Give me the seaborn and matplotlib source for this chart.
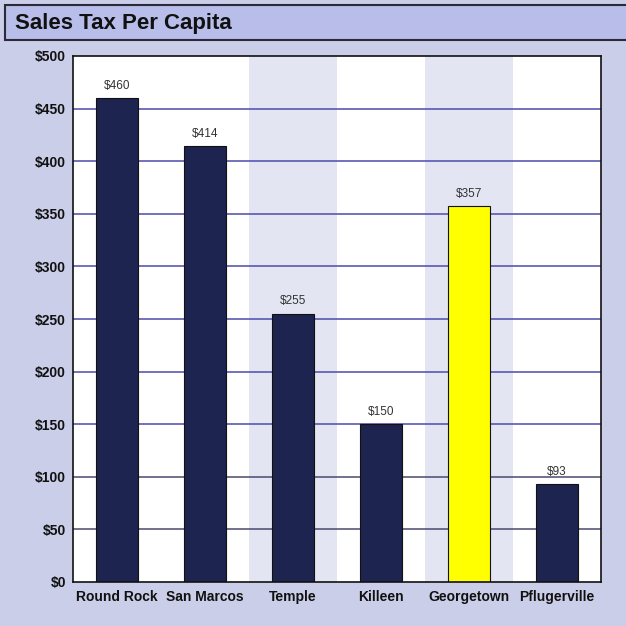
import matplotlib
matplotlib.use("Agg")
import matplotlib.pyplot as plt
from matplotlib.patches import Rectangle
import seaborn as sns
import pandas as pd

cities = ["Round Rock", "San Marcos", "Temple", "Killeen", "Georgetown", "Pflugerville"]
sales_tax = [460, 414, 255, 150, 357, 93]
bar_colors = ["#1e2450", "#1e2450", "#1e2450", "#1e2450", "#ffff00", "#1e2450"]
y_ticks = [0, 50, 100, 150, 200, 250, 300, 350, 400, 450, 500]

sns.set_theme(style="white")
plt.rcParams["font.family"] = ["Liberation Sans", "DejaVu Sans"]

df = pd.DataFrame({"city": cities, "tax": sales_tax})

fig = plt.figure(figsize=(6.26, 6.26), dpi=100)
fig.patch.set_facecolor("#cbcee9")

# title banner
fig.patches.append(Rectangle((5 / 626, 1 - 40 / 626), 1.0, 35 / 626,
                             transform=fig.transFigure, facecolor="#b8bde9",
                             edgecolor="#2a2a3a", linewidth=1.5, zorder=0))
fig.text(15 / 626, 1 - 23 / 626, "Sales Tax Per Capita", fontsize=16,
         fontweight="bold", color="#111111", va="center", ha="left")

ax = fig.add_axes([73 / 626, 44 / 626, 528 / 626, 526 / 626])
ax.set_facecolor("white")

# soft column shading behind alternating categories
for i in (2, 4):
    ax.axvspan(i - 0.5, i + 0.5, color="#e3e5f3", zorder=0, lw=0)

for t in y_ticks[1:-1]:
    ax.axhline(t, color="#4c4cab" if t >= 150 else "#4a4a70", lw=1.1, zorder=1)

sns.barplot(data=df, x="city", y="tax", hue="city", palette=bar_colors,
            width=0.48, edgecolor="#111111", linewidth=0.8, saturation=1,
            legend=False, ax=ax, zorder=2)

for i, v in enumerate(sales_tax):
    ax.text(i, v + 6, f"${v}", ha="center", va="bottom", fontsize=8.5,
            color="#333333")

ax.set_xlim(-0.5, 5.5)
ax.set_ylim(0, 500)
ax.set_yticks(y_ticks)
ax.set_yticklabels([f"${t}" for t in y_ticks], fontsize=10, fontweight="bold",
                   color="#111111")
ax.set_xticks(range(len(cities)))
ax.set_xticklabels(cities, fontsize=10, fontweight="bold", color="#111111")
ax.tick_params(axis="y", length=0, pad=5)
ax.tick_params(axis="x", length=0, pad=6)
ax.set_xlabel("")
ax.set_ylabel("")
for s in ax.spines.values():
    s.set_visible(True)
    s.set_color("#111111")
    s.set_linewidth(1.2)

fig.savefig("out.png", dpi=100, facecolor=fig.get_facecolor())
